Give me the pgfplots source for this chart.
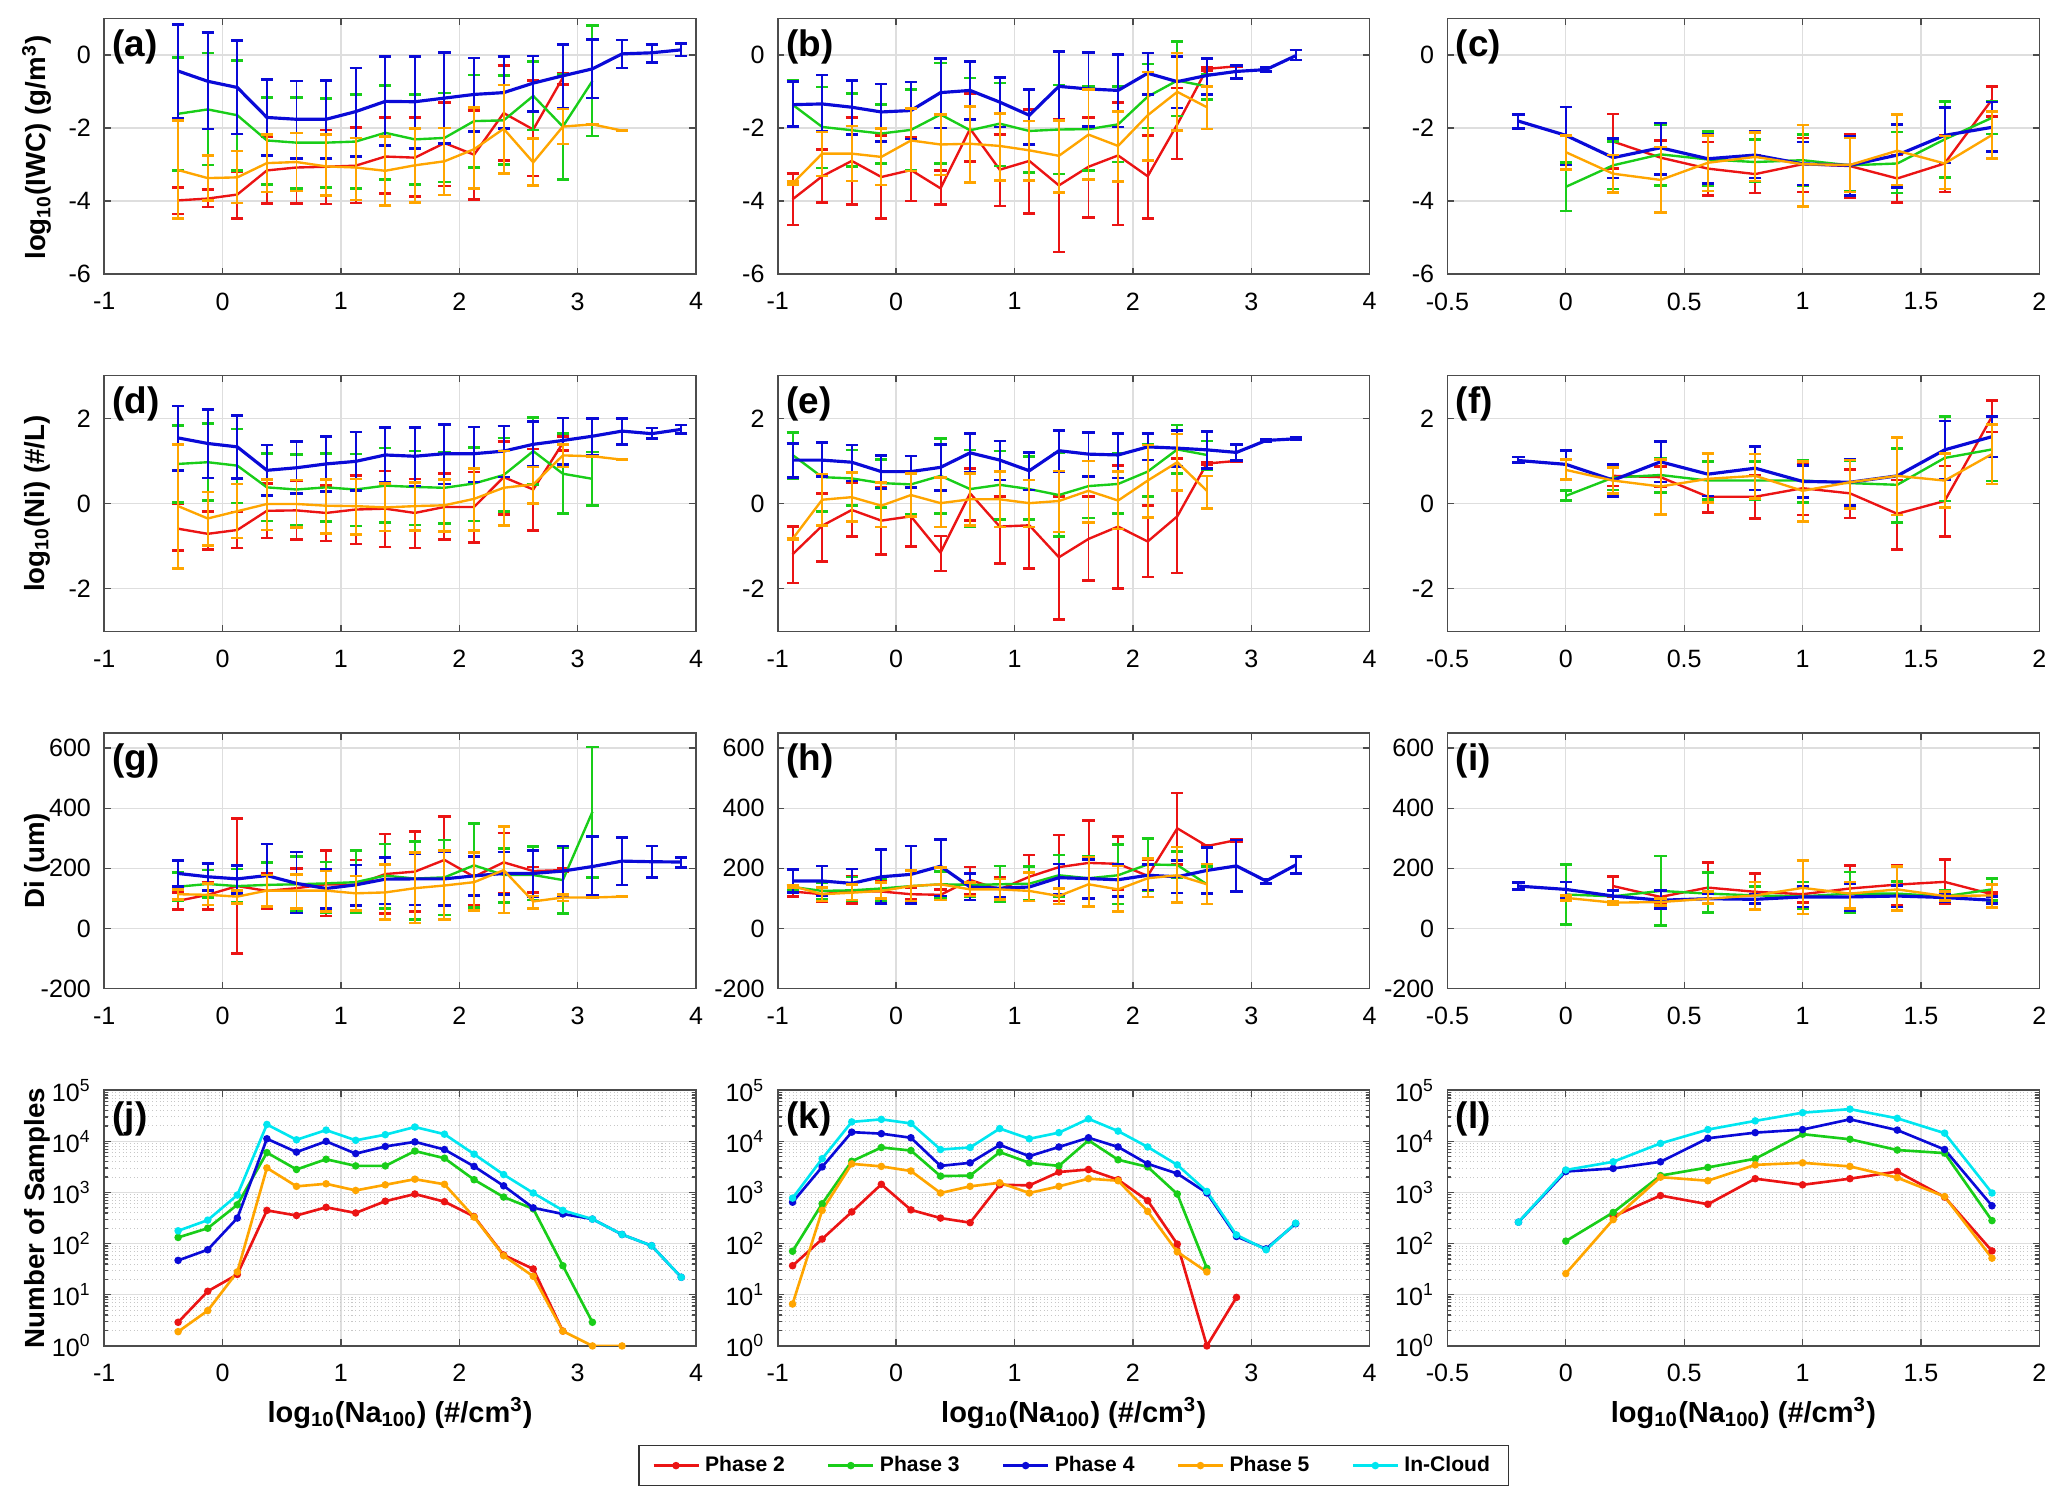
\documentclass[border=0pt]{standalone}
\usepackage{fontspec}
\setmainfont{Liberation Sans}
\usepackage{pgfplots}
\pgfplotsset{compat=1.18}
\definecolor{cR}{RGB}{235,20,20}
\definecolor{cG}{RGB}{25,205,25}
\definecolor{cB}{RGB}{10,10,215}
\definecolor{cO}{RGB}{255,165,0}
\definecolor{cC}{RGB}{0,230,240}
\tikzset{lab/.style={anchor=north west, font=\bfseries\fontsize{14}{16}\selectfont, inner sep=0pt, xshift=3pt, yshift=-4pt}}
\pgfplotsset{
  table/ebt/.style={x=x,y=y,y error plus expr=\thisrow{h}-\thisrow{y},y error minus expr=\thisrow{y}-\thisrow{l}},
  eb/.style={line width=#1, mark=none, error bars/y dir=both, error bars/y explicit,
     error bars/error bar style={line width=0.75pt},
     error bars/error mark options={rotate=90, mark size=2.3pt, line width=1pt}},
  eb/.default=0.9pt,
  cnt/.style={line width=1pt, mark=*, mark size=0.9pt},
  base/.style={scale only axis, width=224.5pt, height=97pt, anchor=north west,
    axis line style={black!70, line width=0.6pt},
    tick style={black!70, line width=0.5pt},
    major tick length=2.5pt, minor tick length=1.5pt,
    xmajorgrids, ymajorgrids,
    major grid style={black!13, line width=0.5pt},
    tick label style={font=\fontsize{9.5}{11}\selectfont},
    /pgf/number format/assume math mode=true,
    xticklabel style={/pgf/number format/fixed, yshift=-3.5pt},
    yticklabel style={xshift=-1.5pt}},
  c1/.style={xmin=-1, xmax=4, xtick={-1,0,1,2,3,4}},
  c3/.style={xmin=-0.5, xmax=2, xtick={-0.5,0,0.5,1,1.5,2}},
  r1/.style={ymin=-6, ymax=1, ytick={-6,-4,-2,0}},
  r2/.style={ymin=-3, ymax=3, ytick={-2,0,2}},
  r3/.style={ymin=-200, ymax=650, ytick={-200,0,200,400,600}},
  r4/.style={ymin=1, ymax=100000, ytick={1,10,100,1000,10000,100000},
    yticklabels={{10\textsuperscript{0}},{10\textsuperscript{1}},{10\textsuperscript{2}},{10\textsuperscript{3}},{10\textsuperscript{4}},{10\textsuperscript{5}}},
    yminorgrids, minor grid style={black!22, densely dotted, line width=0.35pt}}
}
\begin{document}
\begin{tikzpicture}
% ---------------- (a)
\begin{axis}[base, c1, r1, at={(39.5pt,-7pt)}]
\addplot[cR, eb] table[ebt] {
x y l h
-0.375 -3.98 -4.35 -3.62
-0.125 -3.93 -4.16 -3.68
0.125 -3.82 -4.47 -3.20
0.375 -3.16 -4.06 -2.25
0.625 -3.08 -4.06 -2.14
0.875 -3.06 -4.08 -2.05
1.125 -3.03 -4.05 -1.98
1.375 -2.78 -3.79 -1.72
1.625 -2.81 -3.88 -1.72
1.875 -2.41 -3.59 -1.30
2.125 -2.73 -3.95 -1.52
2.375 -1.59 -2.88 -0.28
2.625 -2.04 -3.31 -0.70
2.875 -0.62 -0.80 -0.50
};
\addplot[cG, eb] table[ebt] {
x y l h
-0.375 -1.61 -3.16 -0.07
-0.125 -1.49 -3.01 0.05
0.125 -1.65 -3.16 -0.15
0.375 -2.34 -3.55 -1.17
0.625 -2.40 -3.66 -1.17
0.875 -2.40 -3.63 -1.19
1.125 -2.37 -3.65 -1.08
1.375 -2.13 -3.41 -0.84
1.625 -2.31 -3.55 -1.09
1.875 -2.27 -3.48 -1.04
2.125 -1.81 -3.08 -0.55
2.375 -1.79 -2.99 -0.57
2.625 -1.12 -2.05 -0.18
2.875 -1.96 -3.41 -0.54
3.125 -0.71 -2.22 0.81
};
\addplot[cB, eb=1.2pt] table[ebt] {
x y l h
-0.375 -0.44 -1.73 0.83
-0.125 -0.72 -2.03 0.61
0.125 -0.89 -2.16 0.40
0.375 -1.71 -2.76 -0.67
0.625 -1.76 -2.83 -0.71
0.875 -1.76 -2.83 -0.69
1.125 -1.55 -2.78 -0.36
1.375 -1.27 -2.48 -0.05
1.625 -1.28 -2.56 -0.04
1.875 -1.18 -2.43 0.06
2.125 -1.08 -2.10 -0.08
2.375 -1.03 -2.02 -0.05
2.625 -0.77 -1.54 -0.03
2.875 -0.57 -1.45 0.28
3.125 -0.38 -1.18 0.43
3.375 0.03 -0.36 0.41
3.625 0.06 -0.21 0.29
3.875 0.14 -0.03 0.31
};
\addplot[cO, eb] table[ebt] {
x y l h
-0.375 -3.15 -4.47 -1.80
-0.125 -3.37 -3.99 -2.75
0.125 -3.35 -4.05 -2.63
0.375 -2.96 -3.75 -2.18
0.625 -2.93 -3.72 -2.14
0.875 -3.05 -3.85 -2.18
1.125 -3.08 -3.97 -2.27
1.375 -3.17 -4.12 -2.23
1.625 -3.02 -4.03 -2.02
1.875 -2.91 -3.83 -2.00
2.125 -2.58 -3.66 -1.43
2.375 -2.02 -3.25 -0.82
2.625 -2.94 -3.57 -2.29
2.875 -1.96 -2.44 -1.48
3.125 -1.90 -1.90 -1.90
3.375 -2.07 -2.07 -2.07
};
\node[lab] at (rel axis cs:0,1) {(a)};
\end{axis}
% ---------------- (b)
\begin{axis}[base, c1, r1, at={(295pt,-7pt)}]
\addplot[cR, eb] table[ebt] {
x y l h
-0.875 -3.95 -4.65 -3.25
-0.625 -3.32 -4.04 -2.58
-0.375 -2.90 -4.09 -1.72
-0.125 -3.34 -4.48 -2.20
0.125 -3.15 -4.00 -2.26
0.375 -3.65 -4.10 -3.17
0.625 -2.02 -2.92 -1.06
0.875 -3.14 -4.13 -2.17
1.125 -2.90 -4.34 -1.50
1.375 -3.57 -5.39 -1.77
1.625 -3.06 -4.45 -1.72
1.875 -2.75 -4.65 -1.30
2.125 -3.32 -4.47 -2.20
2.375 -1.90 -2.85 -0.90
2.625 -0.38 -0.42 -0.34
2.875 -0.31 -0.33 -0.29
};
\addplot[cG, eb] table[ebt] {
x y l h
-0.875 -1.36 -1.94 -0.70
-0.625 -1.97 -3.09 -0.88
-0.375 -2.06 -3.06 -1.06
-0.125 -2.15 -2.97 -1.36
0.125 -2.05 -3.15 -0.95
0.375 -1.63 -2.97 -0.22
0.625 -2.06 -3.50 -0.63
0.875 -1.88 -3.04 -0.77
1.125 -2.08 -3.21 -0.93
1.375 -2.04 -3.26 -0.82
1.625 -2.03 -3.17 -0.86
1.875 -1.90 -2.93 -0.86
2.125 -1.14 -2.00 -0.25
2.375 -0.70 -1.67 0.37
2.625 -0.86 -1.22 -0.54
};
\addplot[cB, eb=1.2pt] table[ebt] {
x y l h
-0.875 -1.36 -1.95 -0.72
-0.625 -1.34 -2.10 -0.55
-0.375 -1.43 -2.18 -0.70
-0.125 -1.56 -2.36 -0.79
0.125 -1.52 -2.30 -0.74
0.375 -1.03 -2.00 -0.10
0.625 -0.97 -1.77 -0.17
0.875 -1.29 -1.97 -0.61
1.125 -1.65 -2.45 -0.94
1.375 -0.86 -1.81 0.09
1.625 -0.93 -1.95 0.07
1.875 -0.97 -1.97 0.01
2.125 -0.50 -1.08 0.05
2.375 -0.73 -1.45 -0.04
2.625 -0.56 -1.08 -0.10
2.875 -0.45 -0.64 -0.29
3.125 -0.40 -0.45 -0.35
3.375 -0.02 -0.14 0.14
};
\addplot[cO, eb] table[ebt] {
x y l h
-0.875 -3.52 -3.55 -3.47
-0.625 -2.70 -3.31 -2.11
-0.375 -2.70 -3.45 -1.94
-0.125 -2.79 -3.56 -2.02
0.125 -2.34 -3.18 -1.47
0.375 -2.45 -3.29 -1.63
0.625 -2.43 -3.49 -1.41
0.875 -2.49 -3.43 -1.61
1.125 -2.61 -3.43 -1.81
1.375 -2.76 -3.77 -1.79
1.625 -2.18 -3.41 -0.94
1.875 -2.49 -3.47 -1.54
2.125 -1.65 -2.88 -0.47
2.375 -1.01 -2.06 0.05
2.625 -1.43 -2.03 -0.86
};
\node[lab] at (rel axis cs:0,1) {(b)};
\end{axis}
% ---------------- (c)
\begin{axis}[base, c3, r1, at={(549pt,-7pt)}]
\addplot[cR, eb] table[ebt] {
x y l h
0.2 -2.37 -3.11 -1.62
0.4 -2.81 -3.28 -2.34
0.6 -3.11 -3.84 -2.38
0.8 -3.26 -3.78 -2.75
1.0 -2.99 -3.75 -2.27
1.2 -3.04 -3.90 -2.18
1.4 -3.38 -4.03 -2.74
1.6 -2.97 -3.75 -2.21
1.8 -1.22 -1.68 -0.86
};
\addplot[cG, eb] table[ebt] {
x y l h
0 -3.61 -4.27 -2.94
0.2 -3.02 -3.67 -2.36
0.4 -2.72 -3.58 -1.92
0.6 -2.86 -3.59 -2.09
0.8 -2.93 -3.47 -2.32
1.0 -2.88 -3.58 -2.18
1.2 -3.02 -3.72 -2.25
1.4 -2.97 -3.78 -2.11
1.6 -2.31 -3.36 -1.27
1.8 -1.72 -2.16 -1.27
};
\addplot[cB, eb=1.2pt] table[ebt] {
x y l h
-0.2 -1.81 -2.01 -1.63
0 -2.20 -3.01 -1.42
0.2 -2.81 -3.37 -2.29
0.4 -2.54 -3.27 -1.86
0.6 -2.84 -3.52 -2.18
0.8 -2.74 -3.37 -2.10
1.0 -2.98 -3.56 -2.38
1.2 -3.02 -3.84 -2.22
1.4 -2.74 -3.63 -1.91
1.6 -2.20 -2.96 -1.43
1.8 -1.98 -2.65 -1.29
};
\addplot[cO, eb] table[ebt] {
x y l h
0 -2.66 -3.13 -2.21
0.2 -3.25 -3.76 -2.74
0.4 -3.42 -4.31 -2.52
0.6 -2.95 -3.72 -2.20
0.8 -2.79 -3.45 -2.13
1.0 -2.99 -4.15 -1.92
1.2 -3.01 -3.75 -2.27
1.4 -2.62 -3.56 -1.63
1.6 -2.97 -3.67 -2.22
1.8 -2.19 -2.84 -1.54
};
\node[lab] at (rel axis cs:0,1) {(c)};
\end{axis}
% ---------------- (d)
\begin{axis}[base, c1, r2, at={(39.5pt,-142.5pt)}]
\addplot[cR, eb] table[ebt] {
x y l h
-0.375 -0.59 -1.10 -0.01
-0.125 -0.71 -1.08 -0.18
0.125 -0.62 -1.04 -0.20
0.375 -0.17 -0.81 0.47
0.625 -0.16 -0.85 0.53
0.875 -0.22 -0.88 0.43
1.125 -0.14 -0.95 0.66
1.375 -0.12 -1.02 0.76
1.625 -0.22 -1.04 0.58
1.875 -0.08 -0.84 0.70
2.125 -0.08 -0.91 0.74
2.375 0.62 -0.26 1.46
2.625 0.33 -0.63 1.28
2.875 1.42 1.25 1.58
};
\addplot[cG, eb] table[ebt] {
x y l h
-0.375 0.93 0.02 1.83
-0.125 0.97 0.07 1.88
0.125 0.89 0.01 1.75
0.375 0.38 -0.41 1.17
0.625 0.33 -0.52 1.15
0.875 0.38 -0.42 1.17
1.125 0.33 -0.53 1.16
1.375 0.42 -0.45 1.30
1.625 0.39 -0.50 1.23
1.875 0.37 -0.47 1.21
2.125 0.47 -0.41 1.32
2.375 0.67 -0.18 1.54
2.625 1.23 0.45 2.02
2.875 0.70 -0.23 1.64
3.125 0.58 -0.04 1.21
};
\addplot[cB, eb=1.2pt] table[ebt] {
x y l h
-0.375 1.54 0.77 2.29
-0.125 1.41 0.60 2.21
0.125 1.33 0.59 2.07
0.375 0.78 0.19 1.37
0.625 0.84 0.23 1.46
0.875 0.93 0.29 1.57
1.125 0.99 0.31 1.68
1.375 1.14 0.49 1.78
1.625 1.11 0.41 1.78
1.875 1.17 0.46 1.85
2.125 1.17 0.51 1.80
2.375 1.23 0.62 1.82
2.625 1.39 0.87 1.93
2.875 1.48 0.92 2.01
3.125 1.58 1.13 2.00
3.375 1.70 1.39 2.00
3.625 1.64 1.52 1.77
3.875 1.74 1.64 1.84
};
\addplot[cO, eb] table[ebt] {
x y l h
-0.375 -0.06 -1.53 1.39
-0.125 -0.35 -0.98 0.27
0.125 -0.18 -0.81 0.46
0.375 -0.01 -0.62 0.56
0.625 -0.01 -0.56 0.55
0.875 -0.05 -0.70 0.56
1.125 -0.06 -0.73 0.58
1.375 -0.09 -0.64 0.47
1.625 -0.06 -0.63 0.50
1.875 -0.04 -0.66 0.56
2.125 0.11 -0.63 0.83
2.375 0.37 -0.52 1.23
2.625 0.45 0.00 0.86
2.875 1.13 0.86 1.39
3.125 1.11 1.11 1.11
3.375 1.03 1.03 1.03
};
\node[lab] at (rel axis cs:0,1) {(d)};
\end{axis}
% ---------------- (e)
\begin{axis}[base, c1, r2, at={(295pt,-142.5pt)}]
\addplot[cR, eb] table[ebt] {
x y l h
-0.875 -1.19 -1.86 -0.54
-0.625 -0.52 -1.36 0.24
-0.375 -0.15 -0.77 0.48
-0.125 -0.40 -1.19 0.38
0.125 -0.30 -1.01 0.38
0.375 -1.15 -1.58 -0.76
0.625 0.24 -0.40 0.83
0.875 -0.54 -1.40 0.16
1.125 -0.51 -1.53 0.55
1.375 -1.26 -2.72 0.16
1.625 -0.83 -1.81 0.16
1.875 -0.54 -2.00 0.90
2.125 -0.89 -1.72 -0.05
2.375 -0.30 -1.63 1.06
2.625 0.94 0.91 0.97
2.875 1.00 0.98 1.02
};
\addplot[cG, eb] table[ebt] {
x y l h
-0.875 1.14 0.59 1.66
-0.625 0.62 -0.19 1.43
-0.375 0.59 -0.05 1.26
-0.125 0.48 -0.09 1.04
0.125 0.45 -0.25 1.12
0.375 0.65 -0.23 1.53
0.625 0.34 -0.55 1.26
0.875 0.44 -0.37 1.23
1.125 0.34 -0.38 1.10
1.375 0.20 -0.77 1.19
1.625 0.41 -0.34 1.16
1.875 0.46 -0.23 1.18
2.125 0.75 0.16 1.39
2.375 1.27 0.71 1.84
2.625 1.14 0.79 1.47
};
\addplot[cB, eb=1.2pt] table[ebt] {
x y l h
-0.875 1.02 0.61 1.41
-0.625 1.02 0.63 1.43
-0.375 0.97 0.53 1.37
-0.125 0.75 0.36 1.13
0.125 0.75 0.38 1.12
0.375 0.85 0.31 1.39
0.625 1.19 0.73 1.65
0.875 1.02 0.55 1.47
1.125 0.77 0.32 1.20
1.375 1.24 0.75 1.71
1.625 1.16 0.63 1.66
1.875 1.14 0.60 1.65
2.125 1.33 1.02 1.64
2.375 1.30 0.87 1.72
2.625 1.26 0.83 1.69
2.875 1.20 1.01 1.39
3.125 1.48 1.45 1.51
3.375 1.52 1.49 1.55
};
\addplot[cO, eb] table[ebt] {
x y l h
-0.875 -0.83 -0.85 -0.81
-0.625 0.09 -0.51 0.69
-0.375 0.15 -0.42 0.73
-0.125 -0.05 -0.55 0.49
0.125 0.20 -0.30 0.71
0.375 0.01 -0.55 0.61
0.625 0.10 -0.52 0.71
0.875 0.10 -0.55 0.75
1.125 0.01 -0.55 0.55
1.375 0.06 -0.67 0.76
1.625 0.30 -0.44 1.00
1.875 0.07 -0.60 0.75
2.125 0.54 -0.33 1.37
2.375 0.97 0.30 1.63
2.625 0.30 -0.12 0.65
};
\node[lab] at (rel axis cs:0,1) {(e)};
\end{axis}
% ---------------- (f)
\begin{axis}[base, c3, r2, at={(549pt,-142.5pt)}]
\addplot[cR, eb] table[ebt] {
x y l h
0.2 0.65 0.41 0.90
0.4 0.62 0.40 0.87
0.6 0.16 -0.21 1.18
0.8 0.16 -0.35 0.67
1.0 0.36 -0.27 0.97
1.2 0.24 -0.34 0.80
1.4 -0.24 -1.08 0.55
1.6 0.06 -0.77 0.88
1.8 2.04 1.68 2.42
};
\addplot[cG, eb] table[ebt] {
x y l h
0 0.18 0.07 0.30
0.2 0.61 0.32 0.85
0.4 0.67 0.26 1.06
0.6 0.54 0.10 0.98
0.8 0.54 0.09 0.98
1.0 0.54 0.02 1.02
1.2 0.48 -0.05 1.01
1.4 0.44 -0.44 1.29
1.6 1.07 0.06 2.05
1.8 1.27 0.53 2.04
};
\addplot[cB, eb=1.2pt] table[ebt] {
x y l h
-0.2 1.01 0.96 1.09
0 0.92 0.58 1.24
0.2 0.55 0.16 0.92
0.4 0.98 0.51 1.46
0.6 0.69 0.18 1.18
0.8 0.83 0.32 1.34
1.0 0.52 0.14 0.90
1.2 0.50 -0.05 1.04
1.4 0.65 -0.27 1.55
1.6 1.26 0.57 1.94
1.8 1.57 1.09 2.05
};
\addplot[cO, eb] table[ebt] {
x y l h
0 0.79 0.57 1.04
0.2 0.54 0.24 0.85
0.4 0.40 -0.25 1.04
0.6 0.58 0.02 1.18
0.8 0.65 0.12 1.16
1.0 0.30 -0.42 0.98
1.2 0.50 -0.11 1.02
1.4 0.65 -0.27 1.55
1.6 0.54 -0.09 1.18
1.8 1.16 0.46 1.86
};
\node[lab] at (rel axis cs:0,1) {(f)};
\end{axis}
% ---------------- (g)
\begin{axis}[base, c1, r3, at={(39.5pt,-278pt)}]
\addplot[cR, eb] table[ebt] {
x y l h
-0.375 92 64 120
-0.125 112 64 154
0.125 141 -84 366
0.375 125 67 183
0.625 134 60 200
0.875 147 42 259
1.125 145 56 228
1.375 181 49 314
1.625 189 56 322
1.875 228 78 373
2.125 172 78 254
2.375 220 117 318
2.625 191 120 205
2.875 194 188 200
};
\addplot[cG, eb] table[ebt] {
x y l h
-0.375 139 92 187
-0.125 148 103 194
0.125 141 87 198
0.375 145 71 219
0.625 147 56 239
0.875 150 53 221
1.125 154 51 259
1.375 176 67 281
1.625 166 31 290
1.875 170 45 294
2.125 210 70 349
2.375 178 86 266
2.625 178 95 272
2.875 161 49 269
3.125 388 170 603
};
\addplot[cB, eb=1.2pt] table[ebt] {
x y l h
-0.375 183 139 225
-0.125 172 126 217
0.125 165 117 210
0.375 176 73 281
0.625 150 51 254
0.875 133 67 197
1.125 145 77 211
1.375 164 82 236
1.625 165 78 250
1.875 165 77 254
2.125 175 110 239
2.375 183 114 254
2.625 183 106 259
2.875 191 106 274
3.125 206 109 305
3.375 224 145 302
3.625 222 170 274
3.875 221 203 236
};
\addplot[cO, eb] table[ebt] {
x y l h
-0.375 114 97 130
-0.125 112 78 150
0.125 106 84 126
0.375 126 73 178
0.625 126 67 180
0.875 126 56 191
1.125 117 60 175
1.375 120 29 213
1.625 134 18 252
1.875 143 29 259
2.125 154 60 252
2.375 194 51 338
2.625 90 66 108
2.875 103 91 114
3.125 103 103 103
3.375 106 106 106
};
\node[lab] at (rel axis cs:0,1) {(g)};
\end{axis}
% ---------------- (h)
\begin{axis}[base, c1, r3, at={(295pt,-278pt)}]
\addplot[cR, eb] table[ebt] {
x y l h
-0.875 123 106 141
-0.625 114 90 136
-0.375 125 83 175
-0.125 123 81 158
0.125 114 97 136
0.375 112 96 130
0.625 161 112 204
0.875 130 92 169
1.125 172 92 244
1.375 204 92 311
1.625 218 74 360
1.875 215 130 305
2.125 175 125 230
2.375 333 213 450
2.625 274 270 278
2.875 294 290 298
};
\addplot[cG, eb] table[ebt] {
x y l h
-0.875 138 130 145
-0.625 125 97 152
-0.375 127 92 171
-0.125 133 92 167
0.125 141 92 191
0.375 147 103 189
0.625 145 105 183
0.875 147 90 208
1.125 149 94 206
1.375 177 105 244
1.625 167 75 241
1.875 177 81 280
2.125 213 127 299
2.375 211 169 257
2.625 147 81 207
};
\addplot[cB, eb=1.2pt] table[ebt] {
x y l h
-0.875 158 119 197
-0.625 158 108 208
-0.375 150 95 198
-0.125 172 83 262
0.125 180 83 274
0.375 207 108 296
0.625 138 95 182
0.875 134 103 164
1.125 138 92 186
1.375 169 112 215
1.625 166 99 230
1.875 162 106 213
2.125 177 128 213
2.375 172 118 227
2.625 193 116 269
2.875 208 123 294
3.125 158 149 164
3.375 211 183 240
};
\addplot[cO, eb] table[ebt] {
x y l h
-0.875 141 137 145
-0.625 114 92 136
-0.375 119 95 147
-0.125 125 99 152
0.125 141 92 193
0.375 147 95 202
0.625 130 108 152
0.875 130 97 164
1.125 125 92 186
1.375 108 81 134
1.625 147 74 238
1.875 130 56 208
2.125 167 105 233
2.375 177 86 271
2.625 147 81 215
};
\node[lab] at (rel axis cs:0,1) {(h)};
\end{axis}
% ---------------- (i)
\begin{axis}[base, c3, r3, at={(549pt,-278pt)}]
\addplot[cR, eb] table[ebt] {
x y l h
0.2 141 105 173
0.4 105 83 127
0.6 136 52 220
0.8 122 63 182
1.0 114 86 136
1.2 133 59 210
1.4 146 77 210
1.6 155 81 230
1.8 114 109 119
};
\addplot[cG, eb] table[ebt] {
x y l h
0 113 14 213
0.2 107 83 127
0.4 125 11 241
0.6 116 53 186
0.8 110 83 140
1.0 107 66 155
1.2 116 53 188
1.4 116 72 157
1.6 107 88 127
1.8 130 94 166
};
\addplot[cB, eb=1.2pt] table[ebt] {
x y l h
-0.2 141 129 152
0 130 99 155
0.2 108 91 127
0.4 94 66 127
0.6 99 83 116
0.8 97 83 113
1.0 105 72 140
1.2 105 59 149
1.4 108 72 144
1.6 103 88 116
1.8 94 83 107
};
\addplot[cO, eb] table[ebt] {
x y l h
0 102 94 110
0.2 86 80 92
0.4 88 77 99
0.6 99 83 122
0.8 110 63 155
1.0 135 48 227
1.2 116 66 155
1.4 130 59 207
1.6 108 94 122
1.8 110 70 147
};
\node[lab] at (rel axis cs:0,1) {(i)};
\end{axis}
% ---------------- (j)
\begin{axis}[ymode=log, base, c1, r4, at={(39.5pt,-413.5pt)}]
\addplot[cR, cnt] coordinates {(-0.375,2.9) (-0.125,11.7) (0.125,25) (0.375,447) (0.625,355) (0.875,513) (1.125,398) (1.375,676) (1.625,933) (1.875,661) (2.125,339) (2.375,60) (2.625,32) (2.875,1.95)};
\addplot[cG, cnt] coordinates {(-0.375,132) (-0.125,200) (0.125,575) (0.375,6026) (0.625,2818) (0.875,4467) (1.125,3311) (1.375,3311) (1.625,6457) (1.875,4677) (2.125,1778) (2.375,813) (2.625,479) (2.875,37) (3.125,2.9)};
\addplot[cB, cnt] coordinates {(-0.375,47) (-0.125,76) (0.125,316) (0.375,11220) (0.625,6166) (0.875,10000) (1.125,5754) (1.375,7943) (1.625,9772) (1.875,6918) (2.125,3236) (2.375,1349) (2.625,501) (2.875,380) (3.125,302) (3.375,151) (3.625,91) (3.875,22)};
\addplot[cO, cnt] coordinates {(-0.375,1.9) (-0.125,4.9) (0.125,28) (0.375,3020) (0.625,1318) (0.875,1479) (1.125,1096) (1.375,1413) (1.625,1820) (1.875,1445) (2.125,331) (2.375,58) (2.625,23) (2.875,1.95) (3.125,1) (3.375,1)};
\addplot[cC, cnt] coordinates {(-0.375,178) (-0.125,288) (0.125,891) (0.375,21380) (0.625,10715) (0.875,16596) (1.125,10471) (1.375,13490) (1.625,19055) (1.875,13804) (2.125,5623) (2.375,2239) (2.625,977) (2.875,447) (3.125,302) (3.375,151) (3.625,91) (3.875,22)};
\node[lab] at (rel axis cs:0,1) {(j)};
\end{axis}
% ---------------- (k)
\begin{axis}[ymode=log, base, c1, r4, at={(295pt,-413.5pt)},
  legend style={at={(0.5,-0.387)}, anchor=north, legend columns=5, draw=black!80,
    font=\bfseries\fontsize{8}{10}\selectfont, inner xsep=5pt, inner ysep=2pt,
    /tikz/every even column/.append style={column sep=14pt}}]
\addplot[cR, cnt] coordinates {(-0.875,37) (-0.625,123) (-0.375,417) (-0.125,1445) (0.125,457) (0.375,316) (0.625,257) (0.875,1413) (1.125,1380) (1.375,2512) (1.625,2818) (1.875,1778) (2.125,692) (2.375,98) (2.625,1) (2.875,8.9)};
\addplot[cG, cnt] coordinates {(-0.875,71) (-0.625,603) (-0.375,4074) (-0.125,7586) (0.125,6607) (0.375,2089) (0.625,2138) (0.875,6166) (1.125,3802) (1.375,3311) (1.625,10471) (1.875,4365) (2.125,3162) (2.375,933) (2.625,33)};
\addplot[cB, cnt] coordinates {(-0.875,646) (-0.625,3162) (-0.375,15136) (-0.125,14125) (0.125,11749) (0.375,3311) (0.625,3802) (0.875,8511) (1.125,5129) (1.375,7762) (1.625,11749) (1.875,7762) (2.125,3631) (2.375,2344) (2.625,977) (2.875,138) (3.125,79) (3.375,245)};
\addplot[cO, cnt] coordinates {(-0.875,6.6) (-0.625,447) (-0.375,3631) (-0.125,3236) (0.125,2630) (0.375,977) (0.625,1318) (0.875,1549) (1.125,977) (1.375,1318) (1.625,1862) (1.875,1698) (2.125,427) (2.375,69) (2.625,28)};
\addplot[cC, cnt] coordinates {(-0.875,776) (-0.625,4571) (-0.375,23988) (-0.125,26915) (0.125,22387) (0.375,6918) (0.625,7586) (0.875,17783) (1.125,11220) (1.375,14791) (1.625,27542) (1.875,15849) (2.125,7762) (2.375,3467) (2.625,1047) (2.875,148) (3.125,76) (3.375,251)};
\legend{Phase 2, Phase 3, Phase 4, Phase 5, In-Cloud}
\node[lab] at (rel axis cs:0,1) {(k)};
\end{axis}
% ---------------- (l)
\begin{axis}[ymode=log, base, c3, r4, at={(549pt,-413.5pt)}]
\addplot[cR, cnt] coordinates {(0.2,339) (0.4,871) (0.6,589) (0.8,1862) (1.0,1413) (1.2,1862) (1.4,2570) (1.6,813) (1.8,72)};
\addplot[cG, cnt] coordinates {(0,112) (0.2,407) (0.4,2138) (0.6,3090) (0.8,4571) (1.0,13804) (1.2,10965) (1.4,6761) (1.6,5888) (1.8,282)};
\addplot[cB, cnt] coordinates {(-0.2,263) (0,2570) (0.2,2951) (0.4,3981) (0.6,11482) (0.8,14791) (1.0,16982) (1.2,26915) (1.4,16596) (1.6,6918) (1.8,550)};
\addplot[cO, cnt] coordinates {(0,26) (0.2,295) (0.4,1995) (0.6,1698) (0.8,3467) (1.0,3802) (1.2,3236) (1.4,1950) (1.6,832) (1.8,52)};
\addplot[cC, cnt] coordinates {(-0.2,263) (0,2754) (0.2,3981) (0.4,9120) (0.6,16982) (0.8,25119) (1.0,36308) (1.2,42658) (1.4,28184) (1.6,14454) (1.8,977)};
\node[lab] at (rel axis cs:0,1) {(l)};
\end{axis}
% ---------------- labels
\begin{scope}[every node/.style={font=\bfseries\fontsize{10.5}{12}\selectfont}]
\node[rotate=90] at (14pt,-56pt) {log\textsubscript{10}(IWC) (g/m\textsuperscript{3})};
\node[rotate=90] at (14pt,-191pt) {log\textsubscript{10}(Ni) (\#/L)};
\node[rotate=90] at (14pt,-326.5pt) {Di (um)};
\node[rotate=90] at (14pt,-462pt) {Number of Samples};
\end{scope}
\begin{scope}[every node/.style={font=\bfseries\fontsize{11}{13}\selectfont}]
\node at (151.75pt,-536pt) {log\textsubscript{10}(Na\textsubscript{100}) (\#/cm\textsuperscript{3})};
\node at (407.25pt,-536pt) {log\textsubscript{10}(Na\textsubscript{100}) (\#/cm\textsuperscript{3})};
\node at (661.25pt,-536pt) {log\textsubscript{10}(Na\textsubscript{100}) (\#/cm\textsuperscript{3})};
\end{scope}
\pgfresetboundingbox
\useasboundingbox (0,0) rectangle (784pt,-569pt);
\end{tikzpicture}
\end{document}
